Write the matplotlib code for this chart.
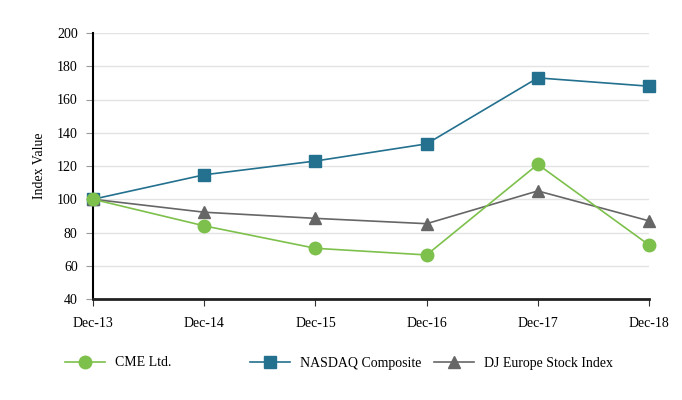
import numpy as np
from matplotlib import pyplot as plt

plt.rcParams['font.family'] = ['Liberation Serif', 'DejaVu Serif']

years = ['Dec-13', 'Dec-14', 'Dec-15', 'Dec-16', 'Dec-17', 'Dec-18']
cme = [100, 84, 70.5, 66.5, 121, 72.5]
nasdaq = [100, 114.7, 123, 133.3, 173, 168]
dj_europe = [100, 92.2, 88.5, 85.3, 105, 87]

green = '#7dc04b'
blue = '#23708f'
gray = '#666666'

fig = plt.figure(figsize=(6.82, 4.0), dpi=100)
ax = fig.add_axes([0.1364, 0.2525, 0.8152, 0.665])

x = np.arange(len(years))
ax.plot(x, cme, color=green, lw=1.2, marker='o', ms=9, label='CME Ltd.',
        zorder=5, clip_on=False)
ax.plot(x, nasdaq, color=blue, lw=1.2, marker='s', ms=8, label='NASDAQ Composite',
        zorder=3, clip_on=False)
ax.plot(x, dj_europe, color=gray, lw=1.2, marker='^', ms=8.5, label='DJ Europe Stock Index',
        zorder=4, clip_on=False)

ax.set_xlim(0, len(years) - 1)
ax.set_ylim(40, 200)
ax.set_yticks(np.arange(40, 201, 20))
ax.set_xticks(x)
ax.set_xticklabels(years)
ax.grid(axis='y', color='#e3e3e3', lw=1)
ax.set_axisbelow(True)

for s in ['top', 'right']:
    ax.spines[s].set_visible(False)
ax.spines['left'].set_linewidth(1.5)
ax.spines['left'].set_color('black')
ax.spines['bottom'].set_linewidth(2)
ax.spines['bottom'].set_color('#222222')

ax.tick_params(axis='y', length=5, width=0.8, color='#999999', labelsize=10, pad=6)
ax.tick_params(axis='x', length=5, width=0.8, color='#333333', labelsize=10, pad=8)
ax.set_ylabel('Index Value', fontsize=10, labelpad=8)

# legend entries placed separately to mimic the spacing
handles = ax.get_lines()
positions = [0.0953, 0.3666, 0.636]
for h, px in zip(handles, positions):
    fig.legend(handles=[h], loc='center left', bbox_to_anchor=(px, 0.0925),
               frameon=False, fontsize=10, handlelength=2.9, handletextpad=0.72,
               borderaxespad=0, borderpad=0)

plt.savefig('out.png', dpi=100)
